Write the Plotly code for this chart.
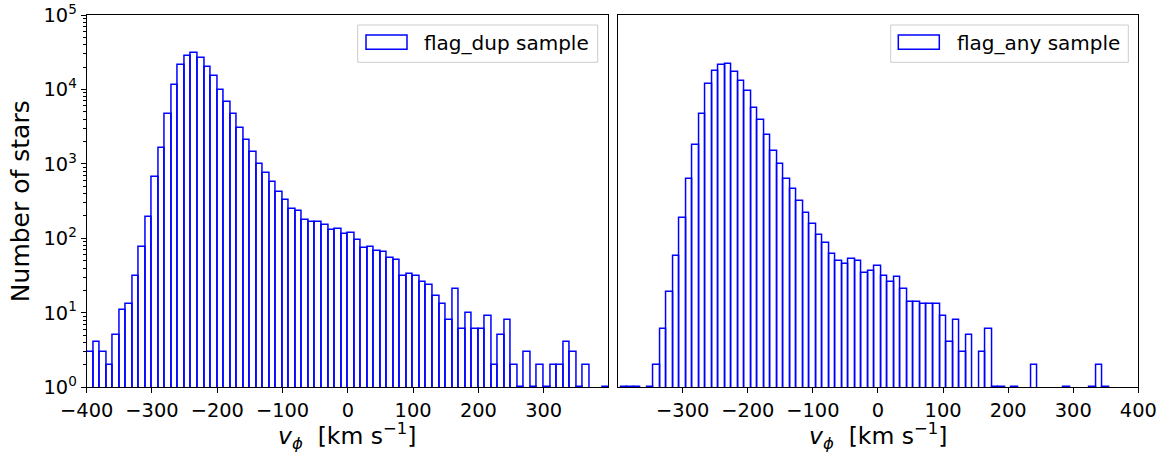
import plotly.graph_objects as go

W, H = 1162, 453

# ---------------- data ----------------
BIN_WIDTH = 10
left_first_edge = -400
left_counts = [3, 4, 3, 2, 5, 11, 13, 31, 77, 191,
               666, 1648, 4614, 11320, 21230, 28000, 31050, 26300, 19950, 14960,
               9700, 6700, 4614, 3000, 2110, 1456, 995, 753, 565, 414,
               324, 245, 230, 175, 164, 164, 149, 131, 133, 115,
               118, 95, 74, 76, 68, 65, 54, 51, 31, 33,
               31, 26, 24, 17, 13, 8, 21, 6, 10, 6,
               6, 9, 2, 5, 8, 2, 1, 3, 1, 2,
               1, 2, 2, 4, 3, 1, 2, 0, 0, 1]

right_first_edge = -395
right_counts = [1, 1, 1, 0, 1,
                2, 6, 19, 58, 185, 619, 1808, 4710, 11670, 17620,
                21000, 21880, 17100, 12940, 9500, 5680, 3950, 2465, 1486, 1005,
                619, 464, 314, 217, 154, 111, 88, 61, 50, 45,
                53, 50, 34, 36, 43, 31, 26, 30, 21, 14,
                14, 13, 13, 13, 9, 4, 8, 3, 5, 0,
                3, 6,
                1, 1, 0, 1, 0, 0, 2, 0, 0, 0, 0, 1, 0, 0, 0, 1, 2, 1, 0, 0, 0, 0]

left_label = "flag_dup sample"
right_label = "flag_any sample"
left_xticks = [-400, -300, -200, -100, 0, 100, 200, 300]
right_xticks = [-300, -200, -100, 0, 100, 200, 300, 400]
y_major = [1, 10, 100, 1000, 10000, 100000]
y_major_text = ["10<sup>%d</sup>" % i for i in range(6)]
y_minor = [m * 10 ** e for e in range(5) for m in range(2, 10)]

# ---------------- helpers ----------------
def px_x(x):
    return x / W

def px_y(y):
    return 1 - y / H

def centers(first, counts):
    return [first + BIN_WIDTH * (i + 0.5) for i in range(len(counts))]

def clean(counts):
    return [c if c > 0 else None for c in counts]

BLUE = "#0000ff"
FONT = "DejaVu Sans"
TICK_SIZE = 19.4

fig = go.Figure()
fig.add_trace(go.Bar(x=centers(left_first_edge, left_counts), y=clean(left_counts),
                     width=BIN_WIDTH, marker=dict(color="rgba(255,255,255,0)",
                                                  line=dict(color=BLUE, width=1.5)),
                     xaxis="x", yaxis="y", showlegend=False, name=left_label))
fig.add_trace(go.Bar(x=centers(right_first_edge, right_counts), y=clean(right_counts),
                     width=BIN_WIDTH, marker=dict(color="rgba(255,255,255,0)",
                                                  line=dict(color=BLUE, width=1.5)),
                     xaxis="x2", yaxis="y2", showlegend=False, name=right_label))

# panel geometry in pixels
L1, R1 = 86.7, 608.3
L2, R2 = 618.3, 1138.3
TOP, BOT = 15.0, 387.3

axis_common = dict(showline=True, linecolor="black", linewidth=1, mirror=True,
                   showgrid=False, zeroline=False, ticks="outside", ticklen=5,
                   tickwidth=1, tickcolor="black", automargin=False,
                   tickfont=dict(family=FONT, size=TICK_SIZE, color="black"))

fig.update_layout(
    width=W, height=H,
    margin=dict(l=0, r=0, t=0, b=0, pad=0, autoexpand=False),
    paper_bgcolor="white", plot_bgcolor="white",
    bargap=0, showlegend=False,
    font=dict(family=FONT, color="black"),
    xaxis=dict(domain=[px_x(L1), px_x(R1)], range=[-400, 399], anchor="y",
               tickmode="array", tickvals=left_xticks, **axis_common),
    yaxis=dict(domain=[px_y(BOT), px_y(TOP)], type="log", range=[0, 5], anchor="x",
               tickmode="array", tickvals=y_major, ticktext=y_major_text,
               minor=dict(tickmode="array", tickvals=y_minor, ticks="outside",
                          ticklen=2.8, tickwidth=0.8, tickcolor="black", showgrid=False),
               **axis_common),
    xaxis2=dict(domain=[px_x(L2), px_x(R2)], range=[-399, 400], anchor="y2",
                tickmode="array", tickvals=right_xticks, **axis_common),
    yaxis2=dict(domain=[px_y(BOT), px_y(TOP)], type="log", range=[0, 5], anchor="x2",
                showline=True, linecolor="black", linewidth=1, mirror=True,
                showgrid=False, zeroline=False, ticks="", showticklabels=False,
                automargin=False),
)

# axis titles
xlab = "<i>v</i><sub><i>ϕ</i></sub>\u00a0\u00a0[km\u00a0s<sup>−1</sup>]"
for cx in ((L1 + R1) / 2, (L2 + R2) / 2):
    fig.add_annotation(x=px_x(cx), y=px_y(436), xref="paper", yref="paper",
                       text=xlab, showarrow=False, font=dict(family=FONT, size=23.5),
                       xanchor="center", yanchor="middle")
fig.add_annotation(x=px_x(20), y=px_y((TOP + BOT) / 2), xref="paper", yref="paper",
                   text="Number of stars", textangle=-90, showarrow=False,
                   font=dict(family=FONT, size=25), xanchor="center", yanchor="middle")

# legends (drawn manually to mimic matplotlib style)
def legend(box_l, box_r, patch_l, patch_r, text_l, label):
    fig.add_shape(type="rect", xref="paper", yref="paper",
                  x0=px_x(box_l), x1=px_x(box_r), y0=px_y(62.3), y1=px_y(25),
                  line=dict(color="#cccccc", width=1), fillcolor="rgba(255,255,255,0.8)")
    fig.add_shape(type="rect", xref="paper", yref="paper",
                  x0=px_x(patch_l), x1=px_x(patch_r), y0=px_y(49.3), y1=px_y(35),
                  line=dict(color=BLUE, width=1.5), fillcolor="rgba(255,255,255,0)")
    fig.add_annotation(x=px_x(text_l), y=px_y(42.5), xref="paper", yref="paper",
                       text=label, showarrow=False, xanchor="left", yanchor="middle",
                       font=dict(family=FONT, size=20, color="black"))

legend(357.7, 597.7, 366, 407, 421.7, left_label)
legend(890.7, 1128.3, 898.3, 939.3, 955, right_label)

fig.write_html("out.html")
